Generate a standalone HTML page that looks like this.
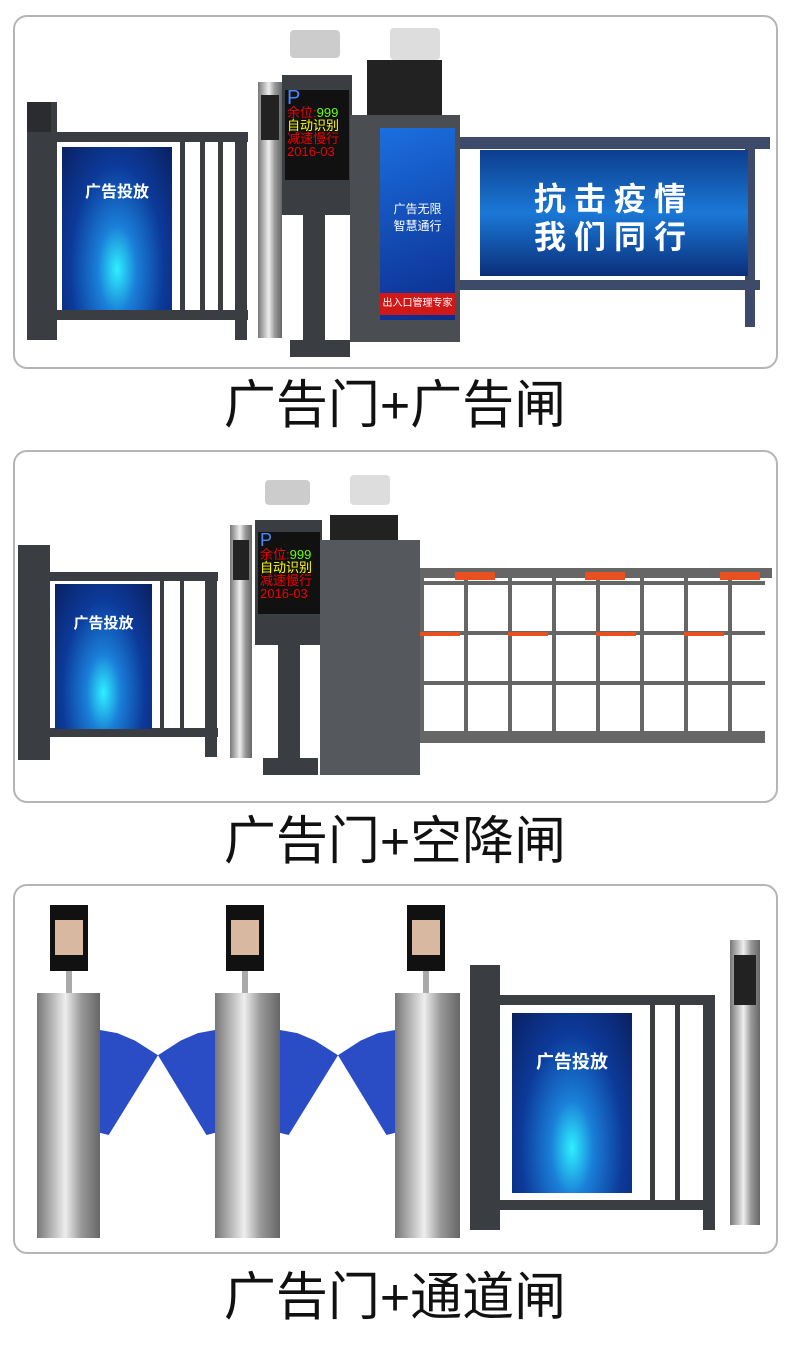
<!DOCTYPE html>
<html><head><meta charset="utf-8"><style>
body{margin:0;width:790px;height:1345px;background:#fff;position:relative;overflow:hidden;font-family:"Liberation Sans","Noto Sans CJK SC",sans-serif}
div{position:absolute;box-sizing:border-box}
.panel{left:13px;width:765px;border:2px solid #b5b5b5;border-radius:14px;background:#fff}
.cap{left:0;width:790px;text-align:center;font-size:52px;color:#111;line-height:1}
.dark{background:#3a3d42}
.blk{background:#222}
.scr{background:radial-gradient(ellipse at 50% 75%,#2ff0ff 0%,#1a7fd8 25%,#0c3a9a 60%,#0a2060 100%)}
.sil{background:linear-gradient(90deg,#777,#eee 45%,#999 70%,#666)}
.wing{background:#2a4cc4}
.wl{clip-path:polygon(0 0,30% 3%,60% 10%,100% 24%,15% 100%,0 98%)}
.wr{clip-path:polygon(0 24%,40% 10%,70% 3%,100% 0,100% 98%,85% 100%)}
.lbl{color:#fff;font-weight:bold;text-align:center}
.led{background:#111;color:#e00;font-size:13px;line-height:13px;padding:2px}
</style></head><body>

<!-- Panel 1 -->
<div class="panel" style="top:15px;height:354px"></div>
<div class="dark" style="left:27px;top:102px;width:30px;height:238px"></div>
<div class="dark" style="left:27px;top:102px;width:24px;height:30px;background:#2a2c30"></div>
<div class="dark" style="left:50px;top:132px;width:198px;height:10px"></div>
<div class="dark" style="left:50px;top:310px;width:198px;height:10px"></div>
<div class="dark" style="left:235px;top:132px;width:12px;height:208px"></div>
<div class="dark" style="left:180px;top:140px;width:5px;height:175px"></div>
<div class="dark" style="left:200px;top:140px;width:5px;height:175px"></div>
<div class="dark" style="left:218px;top:140px;width:5px;height:175px"></div>
<div class="scr" style="left:62px;top:147px;width:110px;height:163px"></div>
<div class="lbl" style="left:62px;top:178px;width:110px;font-size:16px">广告投放</div>
<div class="sil" style="left:258px;top:82px;width:24px;height:256px"></div>
<div class="blk" style="left:261px;top:95px;width:18px;height:45px"></div>
<div class="dark" style="left:303px;top:210px;width:22px;height:140px"></div>
<div class="dark" style="left:290px;top:340px;width:60px;height:17px"></div>
<div class="dark" style="left:282px;top:75px;width:70px;height:140px"></div>
<div class="led" style="left:285px;top:90px;width:64px;height:90px"><span style="color:#48f;font-size:20px">P</span><br>余位:<span style="color:#6f0">999</span><br><span style="color:#ff0">自动识别</span><br>减速慢行<br>2016-03</div>
<div style="left:290px;top:30px;width:50px;height:28px;border-radius:4px;background:#ccc"></div>
<div class="blk" style="left:367px;top:60px;width:75px;height:55px"></div>
<div style="left:390px;top:28px;width:50px;height:32px;background:#ddd;border-radius:4px"></div>
<div style="left:350px;top:115px;width:110px;height:227px;background:#4a4d52"></div>
<div style="left:380px;top:128px;width:75px;height:192px;background:linear-gradient(160deg,#1b6fe0,#0b2b8a)"></div>
<div class="lbl" style="left:380px;top:200px;width:75px;font-size:12px;font-weight:normal">广告无限<br>智慧通行</div>
<div style="left:380px;top:293px;width:75px;height:22px;background:#d01818;color:#fff;font-size:10px;text-align:center;line-height:22px">出入口管理专家</div>
<div style="left:460px;top:137px;width:310px;height:12px;background:#3d4a6a"></div>
<div style="left:460px;top:280px;width:300px;height:10px;background:#3d4a6a"></div>
<div style="left:745px;top:137px;width:10px;height:190px;background:#3d4a6a"></div>
<div style="left:480px;top:150px;width:268px;height:126px;background:linear-gradient(180deg,#0d3e8e,#1a78d6 50%,#0b2f7a)"></div>
<div class="lbl" style="left:480px;top:180px;width:268px;font-size:32px;letter-spacing:8px;line-height:38px">抗击疫情<br>我们同行</div>
<div class="cap" style="top:380px">广告门+广告闸</div>

<!-- Panel 2 -->
<div class="panel" style="top:450px;height:353px"></div>
<div class="dark" style="left:18px;top:545px;width:32px;height:215px"></div>
<div class="dark" style="left:45px;top:572px;width:173px;height:9px"></div>
<div class="dark" style="left:45px;top:728px;width:173px;height:9px"></div>
<div class="dark" style="left:205px;top:572px;width:12px;height:185px"></div>
<div class="dark" style="left:160px;top:578px;width:4px;height:155px"></div>
<div class="dark" style="left:180px;top:578px;width:4px;height:155px"></div>
<div class="scr" style="left:55px;top:584px;width:97px;height:145px"></div>
<div class="lbl" style="left:55px;top:612px;width:97px;font-size:15px">广告投放</div>
<div class="sil" style="left:230px;top:525px;width:22px;height:233px"></div>
<div class="blk" style="left:233px;top:540px;width:16px;height:40px"></div>
<div class="dark" style="left:278px;top:640px;width:22px;height:125px"></div>
<div class="dark" style="left:263px;top:758px;width:55px;height:17px"></div>
<div class="dark" style="left:255px;top:520px;width:67px;height:125px"></div>
<div class="led" style="left:258px;top:532px;width:62px;height:82px"><span style="color:#48f;font-size:18px">P</span><br>余位:<span style="color:#6f0">999</span><br><span style="color:#ff0">自动识别</span><br>减速慢行<br>2016-03</div>
<div style="left:265px;top:480px;width:45px;height:25px;background:#ccc;border-radius:4px"></div>
<div style="left:350px;top:475px;width:40px;height:30px;background:#ddd;border-radius:4px"></div>
<div class="blk" style="left:330px;top:515px;width:68px;height:30px"></div>
<div style="left:320px;top:540px;width:100px;height:235px;background:#55585d"></div>
<div style="left:420px;top:568px;width:352px;height:10px;background:#666"></div>
<div style="left:420px;top:735px;width:345px;height:8px;background:#666"></div>
<div style="left:420px;top:578px;width:345px;height:157px;background:repeating-linear-gradient(90deg,#666 0 4px,transparent 4px 44px),repeating-linear-gradient(0deg,#666 0 4px,transparent 4px 50px)"></div>
<div style="left:455px;top:572px;width:40px;height:8px;background:#e85020"></div>
<div style="left:585px;top:572px;width:40px;height:8px;background:#e85020"></div>
<div style="left:720px;top:572px;width:40px;height:8px;background:#e85020"></div>
<div style="left:420px;top:632px;width:345px;height:4px;background:repeating-linear-gradient(90deg,#e85020 0 40px,transparent 40px 88px)"></div>
<div class="cap" style="top:816px">广告门+空降闸</div>

<!-- Panel 3 -->
<div class="panel" style="top:884px;height:370px"></div>
<div class="wing wl" style="left:100px;top:1030px;width:58px;height:105px"></div>
<div class="wing wr" style="left:158px;top:1030px;width:57px;height:105px"></div>
<div class="wing wl" style="left:280px;top:1030px;width:58px;height:105px"></div>
<div class="wing wr" style="left:338px;top:1030px;width:57px;height:105px"></div>
<div style="left:50px;top:905px;width:38px;height:66px;background:#111"></div>
<div style="left:55px;top:920px;width:28px;height:35px;background:#d8b8a0"></div>
<div style="left:66px;top:971px;width:6px;height:22px;background:#aaa"></div>
<div class="sil" style="left:37px;top:993px;width:63px;height:245px"></div>
<div style="left:226px;top:905px;width:38px;height:66px;background:#111"></div>
<div style="left:231px;top:920px;width:28px;height:35px;background:#d8b8a0"></div>
<div style="left:242px;top:971px;width:6px;height:22px;background:#aaa"></div>
<div class="sil" style="left:215px;top:993px;width:65px;height:245px"></div>
<div style="left:407px;top:905px;width:38px;height:66px;background:#111"></div>
<div style="left:412px;top:920px;width:28px;height:35px;background:#d8b8a0"></div>
<div style="left:423px;top:971px;width:6px;height:22px;background:#aaa"></div>
<div class="sil" style="left:395px;top:993px;width:65px;height:245px"></div>
<!-- gate -->
<div class="dark" style="left:470px;top:965px;width:30px;height:265px"></div>
<div class="dark" style="left:495px;top:995px;width:218px;height:10px"></div>
<div class="dark" style="left:495px;top:1200px;width:218px;height:10px"></div>
<div class="dark" style="left:703px;top:995px;width:12px;height:235px"></div>
<div class="dark" style="left:650px;top:1005px;width:5px;height:195px"></div>
<div class="dark" style="left:675px;top:1005px;width:5px;height:195px"></div>
<div class="scr" style="left:512px;top:1013px;width:120px;height:180px"></div>
<div class="lbl" style="left:512px;top:1048px;width:120px;font-size:18px">广告投放</div>
<div class="sil" style="left:730px;top:940px;width:30px;height:285px"></div>
<div class="blk" style="left:734px;top:955px;width:22px;height:50px"></div>
<div class="cap" style="top:1272px">广告门+通道闸</div>
</body></html>
